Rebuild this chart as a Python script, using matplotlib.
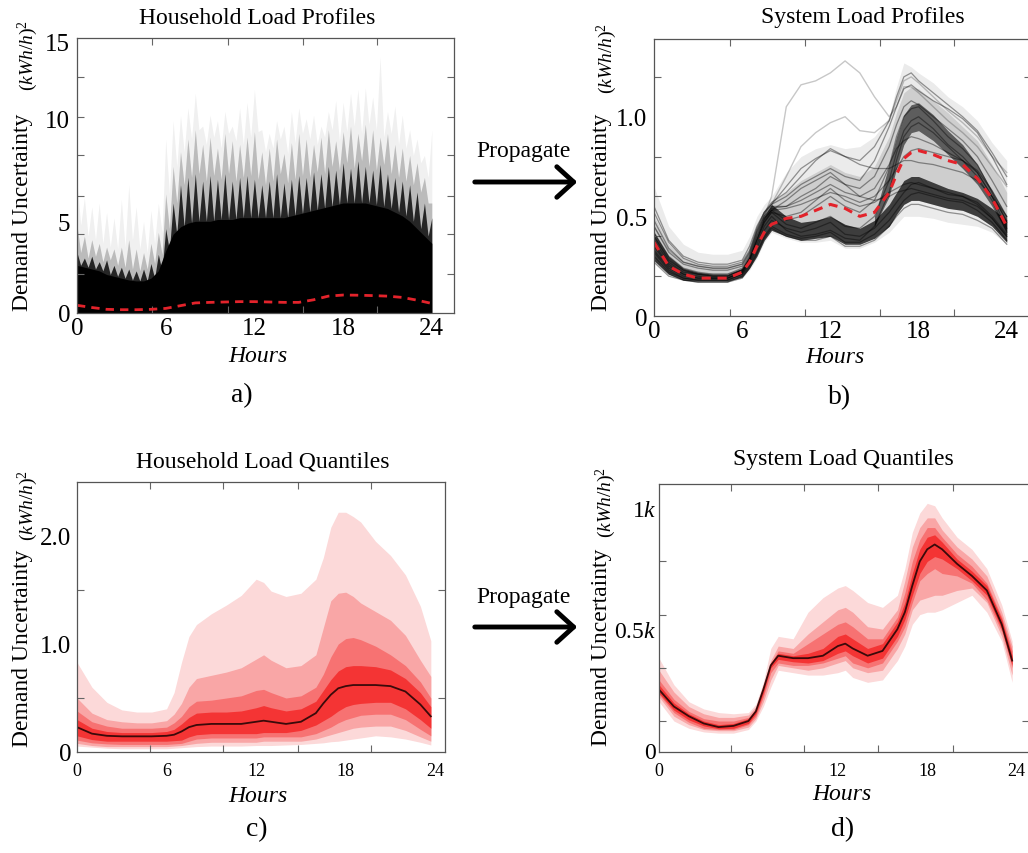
import numpy as np
import matplotlib
matplotlib.use("Agg")
import matplotlib.pyplot as plt
from matplotlib.patches import FancyArrowPatch

plt.rcParams['font.family'] = ['Liberation Serif', 'DejaVu Serif']
plt.rcParams['mathtext.fontset'] = 'custom'
plt.rcParams['mathtext.rm'] = 'Liberation Serif'
plt.rcParams['mathtext.it'] = 'Liberation Serif:italic'

# ---------------- a) household load profiles (half-hourly envelope) ----------------
hours_a = np.arange(49) * 0.5
solid_a = [2.6, 2.5, 2.4, 2.3, 2.1, 2.0, 1.9, 1.8, 1.75, 1.75, 1.9, 2.3, 3.4, 4.3, 4.7, 4.9,
           5.0, 5.0, 5.0, 5.1, 5.1, 5.1, 5.2, 5.2, 5.2, 5.2, 5.2, 5.2, 5.2, 5.3, 5.4, 5.5,
           5.6, 5.7, 5.8, 5.9, 6.0, 6.0, 6.0, 6.0, 5.9, 5.8, 5.7, 5.5, 5.3, 5.0, 4.6, 4.2, 3.8]
dark_a = [3.3, 3.0, 3.1, 2.8, 2.9, 2.6, 2.5, 2.4, 2.3, 2.4, 2.7, 3.2, 4.6, 6.0, 7.0, 7.4,
          7.6, 7.2, 7.5, 7.3, 7.6, 7.2, 7.4, 7.5, 7.3, 7.0, 7.2, 7.6, 7.1, 7.3, 7.5, 7.4,
          7.7, 7.6, 8.0, 7.8, 8.2, 7.9, 8.3, 8.0, 7.8, 8.1, 7.6, 7.4, 7.2, 7.0, 6.6, 6.0, 5.2]
mid_a = [4.8, 4.2, 4.0, 3.8, 3.6, 3.5, 3.6, 4.0, 3.5, 3.3, 3.8, 4.4, 6.5, 8.0, 8.8, 9.5,
         10.0, 9.2, 9.6, 9.0, 9.8, 9.4, 9.2, 9.6, 9.9, 8.8, 9.0, 9.5, 8.7, 9.3, 9.8, 9.5,
         9.2, 9.6, 10.0, 9.4, 9.9, 10.2, 9.8, 10.3, 10.0, 9.6, 9.8, 9.2, 9.0, 8.6, 8.2, 7.4, 6.0]
faint_a = [7.2, 6.3, 5.8, 6.0, 5.5, 5.2, 6.2, 7.0, 5.8, 5.0, 5.6, 6.0, 9.5, 10.5, 10.8, 11.2,
           12.0, 10.2, 10.8, 10.5, 11.0, 10.2, 11.2, 11.5, 12.2, 10.0, 9.8, 10.5, 10.2, 11.0, 11.2, 10.6,
           10.8, 10.2, 11.0, 11.6, 11.5, 12.0, 12.2, 12.3, 11.8, 14.0, 11.0, 11.3, 10.8, 10.0, 9.5, 8.6, 10.0]
hours_mean_a = list(range(25))
mean_a = [0.42, 0.30, 0.20, 0.18, 0.18, 0.20, 0.25, 0.40, 0.55, 0.58, 0.60, 0.62, 0.62,
          0.60, 0.58, 0.58, 0.72, 0.92, 0.98, 0.97, 0.95, 0.92, 0.85, 0.70, 0.52]

# ---------------- b) system load profiles ----------------
hours_b = [0, 1, 2, 3, 4, 5, 6, 6.5, 7, 7.5, 8, 9, 10, 11, 12, 13, 14, 15, 16, 16.5, 17, 17.5,
           18, 19, 20, 21, 22, 23, 24]
mean_b = [0.37, 0.25, 0.21, 0.19, 0.19, 0.19, 0.22, 0.27, 0.35, 0.42, 0.46, 0.49, 0.50, 0.53,
          0.56, 0.54, 0.50, 0.52, 0.62, 0.71, 0.79, 0.82, 0.83, 0.81, 0.78, 0.76, 0.69, 0.59, 0.45]
outer_hi_b = [0.65, 0.45, 0.36, 0.32, 0.31, 0.31, 0.33, 0.40, 0.50, 0.56, 0.60, 0.72, 0.80, 0.84,
              0.86, 0.84, 0.85, 0.90, 1.00, 1.15, 1.27, 1.25, 1.22, 1.17, 1.10, 1.05, 0.98, 0.87, 0.78]
outer_lo_b = [0.27, 0.21, 0.18, 0.17, 0.17, 0.17, 0.19, 0.23, 0.29, 0.37, 0.42, 0.39, 0.37, 0.37,
              0.38, 0.34, 0.34, 0.37, 0.42, 0.46, 0.50, 0.50, 0.50, 0.49, 0.47, 0.46, 0.45, 0.42, 0.36]
mid_hi_b = [0.50, 0.36, 0.29, 0.26, 0.25, 0.25, 0.27, 0.33, 0.44, 0.52, 0.57, 0.62, 0.68, 0.72,
            0.76, 0.72, 0.70, 0.75, 0.90, 1.02, 1.12, 1.15, 1.14, 1.08, 1.02, 0.95, 0.88, 0.76, 0.62]
core_lo_b = [0.28, 0.21, 0.18, 0.175, 0.175, 0.175, 0.195, 0.24, 0.30, 0.38, 0.43, 0.40, 0.38, 0.39,
             0.40, 0.36, 0.36, 0.39, 0.45, 0.51, 0.56, 0.58, 0.58, 0.56, 0.54, 0.53, 0.50, 0.45, 0.37]
core_hi_b = [0.42, 0.30, 0.24, 0.22, 0.21, 0.21, 0.24, 0.30, 0.40, 0.50, 0.56, 0.50, 0.47, 0.48,
             0.50, 0.46, 0.44, 0.48, 0.56, 0.62, 0.68, 0.70, 0.70, 0.67, 0.64, 0.62, 0.59, 0.54, 0.48]
hours_pm_b = [15, 16, 16.5, 17, 17.5, 18, 19, 20, 21, 22, 23, 24]
peak_lo_b = [0.45, 0.60, 0.74, 0.86, 0.92, 0.93, 0.88, 0.81, 0.74, 0.66, 0.55, 0.42]
peak_hi_b = [0.50, 0.76, 0.90, 1.01, 1.06, 1.07, 1.01, 0.93, 0.86, 0.76, 0.63, 0.50]
profiles_b = [
    [0.55, 0.38, 0.30, 0.27, 0.26, 0.26, 0.28, 0.35, 0.45, 0.52, 0.57, 0.62, 0.70, 0.78, 0.84,
     0.80, 0.78, 0.85, 0.98, 1.10, 1.20, 1.22, 1.18, 1.12, 1.06, 1.00, 0.93, 0.82, 0.70],
    [0.45, 0.32, 0.26, 0.24, 0.23, 0.23, 0.25, 0.31, 0.42, 0.50, 0.55, 0.55, 0.60, 0.64, 0.70,
     0.66, 0.64, 0.70, 0.85, 0.96, 1.05, 1.08, 1.06, 1.00, 0.94, 0.88, 0.80, 0.68, 0.55],
    [0.38, 0.27, 0.22, 0.21, 0.20, 0.20, 0.23, 0.29, 0.40, 0.49, 0.53, 0.48, 0.50, 0.55, 0.60,
     0.55, 0.52, 0.58, 0.75, 0.90, 1.00, 1.04, 1.05, 0.98, 0.90, 0.84, 0.76, 0.62, 0.47],
    [0.33, 0.24, 0.20, 0.19, 0.19, 0.19, 0.22, 0.28, 0.38, 0.47, 0.52, 0.46, 0.44, 0.47, 0.50,
     0.45, 0.44, 0.50, 0.68, 0.82, 0.93, 0.98, 1.00, 0.94, 0.86, 0.80, 0.72, 0.60, 0.44],
    [0.30, 0.22, 0.19, 0.18, 0.18, 0.18, 0.21, 0.26, 0.34, 0.43, 0.48, 0.44, 0.42, 0.44, 0.47,
     0.41, 0.40, 0.44, 0.52, 0.57, 0.62, 0.66, 0.67, 0.64, 0.61, 0.60, 0.56, 0.49, 0.40],
    [0.28, 0.21, 0.18, 0.17, 0.17, 0.17, 0.20, 0.25, 0.32, 0.40, 0.45, 0.41, 0.39, 0.40, 0.42,
     0.37, 0.37, 0.41, 0.48, 0.53, 0.58, 0.61, 0.62, 0.60, 0.58, 0.57, 0.53, 0.47, 0.38],
    [0.35, 0.25, 0.21, 0.19, 0.19, 0.19, 0.22, 0.28, 0.38, 0.47, 0.52, 0.50, 0.52, 0.58, 0.64,
     0.58, 0.55, 0.57, 0.62, 0.64, 0.66, 0.67, 0.66, 0.64, 0.62, 0.60, 0.57, 0.50, 0.41],
    [0.42, 0.30, 0.24, 0.22, 0.21, 0.21, 0.24, 0.30, 0.41, 0.50, 0.54, 0.55, 0.58, 0.62, 0.66,
     0.62, 0.60, 0.64, 0.76, 0.84, 0.88, 0.90, 0.89, 0.86, 0.82, 0.78, 0.72, 0.60, 0.48],
    [0.48, 0.34, 0.27, 0.25, 0.24, 0.24, 0.26, 0.32, 0.43, 0.51, 0.56, 0.65, 0.74, 0.79, 0.83,
     0.80, 0.76, 0.74, 0.74, 0.76, 0.78, 0.78, 0.77, 0.76, 0.74, 0.72, 0.68, 0.60, 0.50],
    [0.36, 0.26, 0.21, 0.20, 0.19, 0.19, 0.22, 0.28, 0.39, 0.48, 0.53, 0.58, 0.64, 0.68, 0.72,
     0.66, 0.60, 0.58, 0.60, 0.62, 0.63, 0.64, 0.63, 0.61, 0.59, 0.58, 0.55, 0.49, 0.40],
    [0.52, 0.37, 0.29, 0.26, 0.25, 0.25, 0.27, 0.33, 0.44, 0.52, 0.56, 0.60, 0.66, 0.70, 0.74,
     0.70, 0.68, 0.78, 0.95, 1.05, 1.14, 1.16, 1.13, 1.08, 1.04, 0.99, 0.92, 0.80, 0.66],
    [0.32, 0.23, 0.19, 0.18, 0.18, 0.18, 0.21, 0.27, 0.36, 0.45, 0.50, 0.43, 0.40, 0.41, 0.43,
     0.39, 0.38, 0.45, 0.62, 0.78, 0.90, 0.95, 0.97, 0.92, 0.85, 0.78, 0.70, 0.58, 0.42],
    [0.40, 0.28, 0.23, 0.21, 0.20, 0.20, 0.23, 0.29, 0.40, 0.49, 0.53, 0.54, 0.56, 0.59, 0.62,
     0.60, 0.57, 0.60, 0.68, 0.74, 0.80, 0.83, 0.84, 0.82, 0.80, 0.78, 0.73, 0.63, 0.50],
    [0.27, 0.20, 0.18, 0.17, 0.17, 0.17, 0.19, 0.24, 0.31, 0.39, 0.44, 0.40, 0.38, 0.38, 0.40,
     0.35, 0.35, 0.38, 0.45, 0.50, 0.54, 0.56, 0.56, 0.54, 0.52, 0.51, 0.48, 0.44, 0.36],
]
outliers_b = [
    [0.40, 0.29, 0.23, 0.21, 0.21, 0.21, 0.23, 0.30, 0.42, 0.50, 0.60, 1.05, 1.16, 1.18, 1.22,
     1.28, 1.22, 1.10, 1.00, 1.05, 1.15, 1.15, 1.12, 1.05, 0.98, 0.92, 0.85, 0.75, 0.65],
    [0.45, 0.33, 0.27, 0.25, 0.24, 0.24, 0.26, 0.32, 0.43, 0.52, 0.56, 0.70, 0.85, 0.92, 0.97,
     1.00, 0.93, 0.92, 0.98, 1.08, 1.18, 1.20, 1.17, 1.10, 1.03, 0.97, 0.90, 0.80, 0.72],
]

# ---------------- c) household load quantiles ----------------
hours_c = [0, 1, 2, 3, 4, 5, 6, 6.5, 7, 7.5, 8, 9, 10, 11, 12, 12.5, 13, 14, 15, 16, 16.5, 17,
           17.5, 18, 18.5, 19, 20, 21, 22, 23, 23.7]
c_band1_hi = [0.83, 0.60, 0.46, 0.39, 0.37, 0.37, 0.40, 0.55, 0.83, 1.07, 1.18, 1.28, 1.36, 1.45,
              1.60, 1.57, 1.49, 1.44, 1.47, 1.60, 1.80, 2.08, 2.22, 2.22, 2.18, 2.13, 1.95, 1.82,
              1.64, 1.35, 1.03]
c_band1_lo = [0.055, 0.045, 0.035, 0.03, 0.03, 0.03, 0.03, 0.035, 0.04, 0.045, 0.05, 0.055, 0.055,
              0.055, 0.06, 0.06, 0.06, 0.065, 0.07, 0.08, 0.085, 0.095, 0.10, 0.11, 0.12, 0.13,
              0.15, 0.14, 0.12, 0.09, 0.065]
c_band2_hi = [0.50, 0.36, 0.30, 0.28, 0.27, 0.27, 0.29, 0.35, 0.45, 0.60, 0.68, 0.71, 0.74, 0.78,
              0.86, 0.90, 0.85, 0.78, 0.80, 0.90, 1.15, 1.40, 1.47, 1.48, 1.44, 1.38, 1.30, 1.22,
              1.08, 0.85, 0.70]
c_band2_lo = [0.08, 0.06, 0.05, 0.05, 0.05, 0.05, 0.05, 0.055, 0.06, 0.07, 0.08, 0.09, 0.09, 0.09,
              0.09, 0.10, 0.10, 0.10, 0.10, 0.12, 0.14, 0.16, 0.18, 0.20, 0.22, 0.23, 0.24, 0.24,
              0.20, 0.14, 0.10]
c_band3_hi = [0.38, 0.28, 0.24, 0.22, 0.22, 0.22, 0.23, 0.27, 0.33, 0.42, 0.47, 0.48, 0.50, 0.52,
              0.57, 0.58, 0.55, 0.50, 0.52, 0.60, 0.72, 0.88, 1.00, 1.05, 1.06, 1.04, 0.98, 0.90,
              0.80, 0.65, 0.50]
c_band3_lo = [0.11, 0.085, 0.075, 0.07, 0.07, 0.07, 0.07, 0.075, 0.08, 0.10, 0.12, 0.13, 0.13, 0.13,
              0.13, 0.14, 0.14, 0.14, 0.14, 0.17, 0.20, 0.23, 0.27, 0.30, 0.32, 0.34, 0.35, 0.35,
              0.30, 0.21, 0.15]
c_band4_hi = [0.30, 0.22, 0.19, 0.18, 0.18, 0.18, 0.19, 0.21, 0.26, 0.32, 0.36, 0.37, 0.37, 0.38,
              0.41, 0.43, 0.41, 0.38, 0.40, 0.47, 0.57, 0.67, 0.75, 0.79, 0.80, 0.80, 0.79, 0.76,
              0.68, 0.55, 0.42]
c_band4_lo = [0.15, 0.115, 0.10, 0.10, 0.10, 0.10, 0.10, 0.105, 0.11, 0.14, 0.16, 0.17, 0.17, 0.17,
              0.17, 0.18, 0.18, 0.18, 0.20, 0.25, 0.29, 0.33, 0.38, 0.42, 0.44, 0.45, 0.46, 0.46,
              0.40, 0.30, 0.22]
c_median = [0.23, 0.17, 0.15, 0.145, 0.145, 0.145, 0.15, 0.16, 0.19, 0.23, 0.25, 0.26, 0.26, 0.26,
            0.28, 0.29, 0.28, 0.26, 0.28, 0.36, 0.45, 0.53, 0.59, 0.61, 0.62, 0.62, 0.62, 0.61,
            0.56, 0.44, 0.33]

# ---------------- d) system load quantiles (thousands) ----------------
hours_d = hours_c
d_band1_hi = [0.38, 0.27, 0.20, 0.17, 0.155, 0.15, 0.155, 0.19, 0.28, 0.42, 0.47, 0.46, 0.57, 0.63,
              0.67, 0.68, 0.66, 0.61, 0.59, 0.64, 0.75, 0.90, 0.98, 1.02, 1.01, 0.96, 0.88, 0.83,
              0.75, 0.60, 0.45]
d_band1_lo = [0.20, 0.12, 0.09, 0.075, 0.07, 0.07, 0.085, 0.12, 0.18, 0.26, 0.33, 0.32, 0.31, 0.31,
              0.32, 0.33, 0.30, 0.28, 0.29, 0.37, 0.43, 0.52, 0.56, 0.57, 0.57, 0.58, 0.61, 0.64,
              0.57, 0.45, 0.28]
d_band2_hi = [0.33, 0.24, 0.18, 0.15, 0.135, 0.135, 0.145, 0.18, 0.27, 0.37, 0.43, 0.42, 0.48, 0.53,
              0.58, 0.59, 0.57, 0.51, 0.50, 0.58, 0.70, 0.84, 0.92, 0.96, 0.96, 0.91, 0.84, 0.79,
              0.72, 0.57, 0.43]
d_band2_lo = [0.22, 0.14, 0.105, 0.085, 0.08, 0.08, 0.095, 0.13, 0.20, 0.29, 0.35, 0.34, 0.33, 0.34,
              0.36, 0.37, 0.34, 0.32, 0.33, 0.42, 0.48, 0.58, 0.62, 0.63, 0.64, 0.64, 0.66, 0.67,
              0.61, 0.47, 0.31]
d_band3_hi = [0.29, 0.21, 0.16, 0.13, 0.12, 0.12, 0.135, 0.17, 0.26, 0.36, 0.41, 0.40, 0.44, 0.48,
              0.52, 0.53, 0.51, 0.46, 0.46, 0.55, 0.65, 0.78, 0.87, 0.92, 0.92, 0.88, 0.81, 0.76,
              0.69, 0.55, 0.41]
d_band3_lo = [0.23, 0.155, 0.115, 0.09, 0.085, 0.085, 0.105, 0.14, 0.22, 0.32, 0.36, 0.35, 0.35,
              0.36, 0.38, 0.39, 0.36, 0.34, 0.36, 0.45, 0.51, 0.61, 0.70, 0.73, 0.75, 0.73, 0.72,
              0.69, 0.62, 0.49, 0.34]
d_band4_hi = [0.27, 0.195, 0.15, 0.12, 0.105, 0.11, 0.13, 0.165, 0.26, 0.36, 0.40, 0.39, 0.40, 0.42,
              0.47, 0.48, 0.46, 0.42, 0.44, 0.53, 0.61, 0.73, 0.83, 0.88, 0.89, 0.86, 0.79, 0.74,
              0.68, 0.54, 0.39]
d_band4_lo = [0.235, 0.165, 0.125, 0.10, 0.088, 0.09, 0.11, 0.15, 0.235, 0.34, 0.375, 0.365, 0.36,
              0.37, 0.40, 0.41, 0.39, 0.36, 0.38, 0.47, 0.54, 0.64, 0.73, 0.78, 0.80, 0.79, 0.75,
              0.70, 0.64, 0.50, 0.35]
d_median = [0.25, 0.18, 0.14, 0.11, 0.095, 0.10, 0.12, 0.16, 0.25, 0.35, 0.39, 0.38, 0.38, 0.39,
            0.43, 0.44, 0.42, 0.39, 0.41, 0.50, 0.57, 0.68, 0.78, 0.83, 0.85, 0.83, 0.77, 0.72,
            0.66, 0.52, 0.37]

band_colors = ['#fcd9d9', '#f9a6a6', '#f77272', '#f43434']
hour_labels = ['0', '6', '12', '18', '24']
hour_label_pos = [0, 6, 12, 18, 24]

# ---------------- figure ----------------
W, H = 1028, 854
fig = plt.figure(figsize=(W / 100, H / 100), dpi=100)


def px_axes(left, top, right, bottom):
    return fig.add_axes([left / W, 1 - bottom / H, (right - left) / W, (bottom - top) / H])


def fig_text(x, y, s, **kw):
    fig.text(x / W, 1 - y / H, s, ha='center', va='center', **kw)


def style(ax, xlim, ylim, xmarks, ymarks, ylab_pos, ylabels, xfs, yfs, xpad, ypad):
    ax.set_xlim(*xlim)
    ax.set_ylim(*ylim)
    ax.set_xticks(hour_label_pos)
    ax.set_xticklabels(hour_labels, fontsize=xfs)
    ax.set_yticks(ylab_pos)
    ax.set_yticklabels(ylabels, fontsize=yfs)
    ax.set_xticks(xmarks, minor=True)
    ax.set_yticks(ymarks, minor=True)
    ax.tick_params(which='major', length=0)
    ax.tick_params(axis='x', which='major', pad=xpad)
    ax.tick_params(axis='y', which='major', pad=ypad)
    ax.tick_params(which='minor', direction='in', length=5, width=0.8, color='#666666',
                   top=True, right=True, bottom=True, left=True)
    for sp in ax.spines.values():
        sp.set_color('#555555')
        sp.set_linewidth(0.9)


def sawtooth(hours, peaks, valleys):
    xs, ys = [], []
    for i in range(len(hours)):
        xs.append(hours[i])
        ys.append(peaks[i])
        if i < len(hours) - 1:
            xs.append((hours[i] + hours[i + 1]) / 2)
            ys.append(valleys[i])
    return xs, ys


# a)
ax_a = px_axes(77, 39, 454, 314)
xs, ys = sawtooth(hours_a, faint_a, mid_a)
ax_a.fill_between(xs, 0, ys, color='black', alpha=0.06, lw=0)
xs, ys = sawtooth(hours_a, mid_a, dark_a)
ax_a.fill_between(xs, 0, ys, color='black', alpha=0.22, lw=0)
xs, ys = sawtooth(hours_a, dark_a, solid_a)
ax_a.fill_between(xs, 0, ys, color='black', alpha=0.8, lw=0)
ax_a.fill_between(hours_a, 0, solid_a, color='black', lw=0)
ax_a.plot(hours_mean_a, mean_a, color='#e3232b', lw=2, ls=(0, (3, 2.2)))
style(ax_a, (0, 25.5), (0, 15), [5.1, 10.2, 15.3, 20.3], [2.15, 4.3, 6.4, 8.6, 10.7, 12.85],
      [0, 5, 10.6, 14.8], ['0', '5', '10', '15'], 18, 18, 3, 5)

# b)
ax_b = px_axes(654, 40, 1031, 317)
ax_b.fill_between(hours_b, outer_lo_b, outer_hi_b, color='black', alpha=0.08, lw=0)
ax_b.fill_between(hours_b, core_lo_b, mid_hi_b, color='black', alpha=0.12, lw=0)
for prof in outliers_b:
    ax_b.plot(hours_b, prof, color='black', alpha=0.22, lw=1)
for prof in profiles_b:
    ax_b.plot(hours_b, prof, color='black', alpha=0.4, lw=0.9)
ax_b.fill_between(hours_b, core_lo_b, core_hi_b, color='black', alpha=0.7, lw=0)
ax_b.fill_between(hours_pm_b, peak_lo_b, peak_hi_b, color='black', alpha=0.55, lw=0)
ax_b.plot(hours_b, mean_b, color='#e3232b', lw=2.2, ls=(0, (3, 2.2)))
style(ax_b, (0, 25.65), (0, 1.39), [5.2, 10.3, 15.4, 20.4], [0.2, 0.4, 0.6, 0.8, 1.0, 1.2],
      [0, 0.5, 1.0], ['0', '0.5', '1.0'], 18, 18, 3, 5)

# c)
ax_c = px_axes(77, 483, 445, 753)
for (lo, hi), col in zip([(c_band1_lo, c_band1_hi), (c_band2_lo, c_band2_hi),
                          (c_band3_lo, c_band3_hi), (c_band4_lo, c_band4_hi)], band_colors):
    ax_c.fill_between(hours_c, lo, hi, color=col, lw=0)
ax_c.plot(hours_c, c_median, color='#3a0a0a', lw=1.3)
style(ax_c, (0, 24.65), (0, 2.5), [4.9, 9.8, 14.8, 19.7], [0.5, 1.5],
      [0, 1.0, 2.0], ['0', '1.0', '2.0'], 13, 18, 7, 4)

# d)
ax_d = px_axes(659, 485, 1029, 753)
for (lo, hi), col in zip([(d_band1_lo, d_band1_hi), (d_band2_lo, d_band2_hi),
                          (d_band3_lo, d_band3_hi), (d_band4_lo, d_band4_hi)], band_colors):
    ax_d.fill_between(hours_d, lo, hi, color=col, lw=0)
ax_d.plot(hours_d, d_median, color='#3a0a0a', lw=1.3)
style(ax_d, (0, 24.83), (-0.008, 1.1), [4.8, 9.7, 14.7, 19.7], [0.12, 0.34, 0.56, 0.78, 1.0],
      [0, 0.5, 1.0], ['0', r'$0.5k$', r'$1k$'], 13, 17, 7, 2)

# titles, axis captions, panel letters
for x, y, s in [(257, 18, 'Household Load Profiles'), (863, 18, 'System Load Profiles'),
                (263, 462, 'Household Load Quantiles'), (843, 459, 'System Load Quantiles')]:
    fig_text(x, y, s, fontsize=17)
for x, y in [(258, 357), (835, 358), (258, 797), (842, 795)]:
    fig_text(x, y, 'Hours', fontsize=17, style='italic')
for x, y, s in [(242, 396, 'a)'), (840, 398, 'b)'), (257, 830, 'c)'), (843, 830, 'd)')]:
    fig_text(x, y, s, fontsize=20)
for x, y, ux, uy in [(23, 212, 28, 55), (602, 212, 607, 58), (23, 648, 28, 505), (601, 647, 606, 502)]:
    fig_text(x, y, 'Demand Uncertainty', fontsize=17, rotation=90)
    fig_text(ux, uy, r'$(kWh/h)^2$', fontsize=14, rotation=90)

# propagation arrows
for y_arrow, y_text in [(183, 152), (628, 598)]:
    fig_text(524, y_text, 'Propagate', fontsize=17)
    arr = FancyArrowPatch((472 / W, 1 - y_arrow / H), (580 / W, 1 - y_arrow / H),
                          transform=fig.transFigure, arrowstyle='->,head_length=0.55,head_width=0.5',
                          mutation_scale=22, lw=3.5, color='black')
    fig.add_artist(arr)

fig.savefig('out.png', dpi=100)
